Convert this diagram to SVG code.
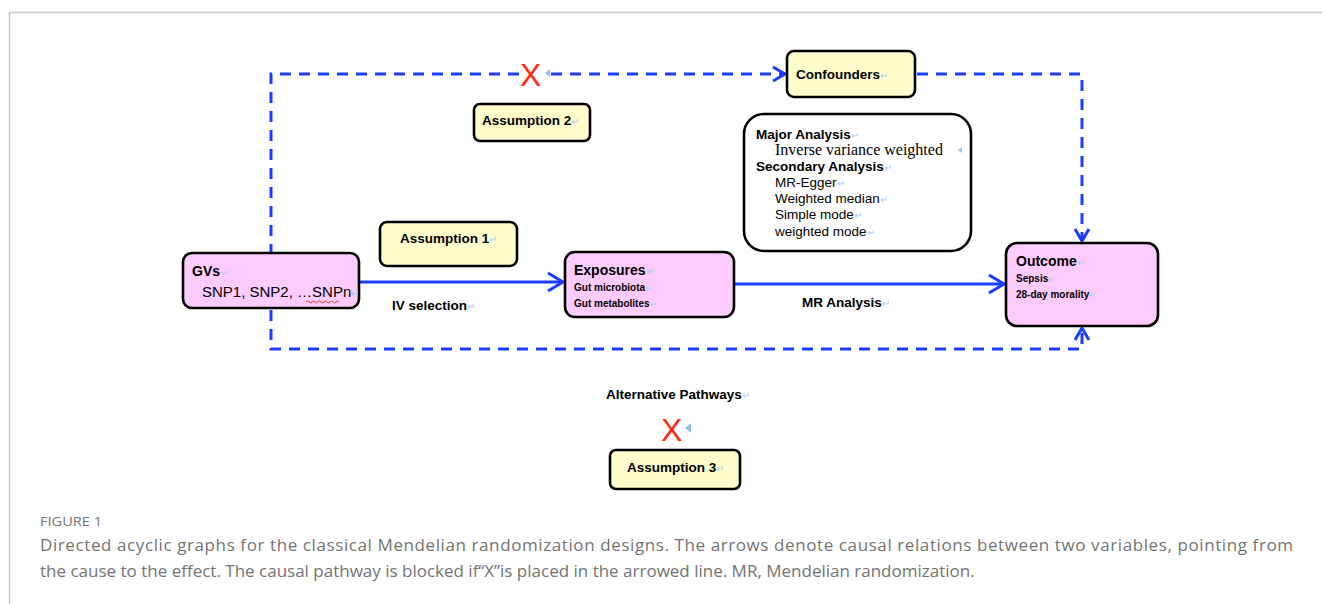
<svg xmlns="http://www.w3.org/2000/svg" width="1322" height="604" viewBox="0 0 1322 604">
<style>
.box{stroke:#000;stroke-width:2.6}
.yel{fill:#fefccb}
.pink{fill:#fdcbfd}
.wht{fill:#fff}
.b{font-family:"Liberation Sans",Arial,sans-serif;font-weight:bold;fill:#000}
.r{font-family:"Liberation Sans",Arial,sans-serif;fill:#000}
.s{font-family:"Liberation Serif","Times New Roman",serif;fill:#000}
.pm{fill:#a9cdf7;font-weight:normal}
.dash{fill:none;stroke:#1a3cff;stroke-width:3;stroke-dasharray:11 8}
.solid{fill:none;stroke:#1a3cff;stroke-width:3}
.head{fill:none;stroke:#1a3cff;stroke-width:3}
.xm{font-family:"Liberation Sans",Arial,sans-serif;fill:#ff2a10;font-size:32px}
.cap{font-family:"Open Sans","Liberation Sans",sans-serif;fill:#737373}
</style>
<rect x="0" y="0" width="1322" height="604" fill="#fff"/>
<path d="M9.5 604 V12.5 H1322" fill="none" stroke="#c8c8c8" stroke-width="1.5"/>

<g id="connectors">
  <path class="dash" d="M271 255 V74 H520"/>
  <path class="dash" d="M551 74 H782"/>
  <path class="head" d="M773 67 L785 74 L773 81"/>
  <path class="dash" d="M917 74 H1082 V238"/>
  <path class="head" d="M1075 229 L1082 241 L1089 229"/>
  <path class="dash" d="M271 310 V349 H1082 V330"/>
  <path class="head" d="M1075 340 L1082 328 L1089 340"/>
  <path class="solid" d="M360 282 H562"/>
  <path class="head" d="M548 273 L563 282 L548 291"/>
  <path class="solid" d="M735 284 H1003"/>
  <path class="head" d="M989 275 L1004 284 L989 293"/>
  <text class="xm" x="520" y="86">X</text>
  <path d="M545 73 L550 69 L550 77 Z" fill="#8fc0f5"/>
  <text class="xm" x="661" y="441">X</text>
  <path d="M685 428 L691 423 L691 433 Z" fill="#8fc0f5"/>
  <text class="b" x="392" y="310" font-size="13.5">IV selection<tspan class="pm" font-size="10">↵</tspan></text>
  <text class="b" x="802" y="307" font-size="13.5">MR Analysis<tspan class="pm" font-size="10">↵</tspan></text>
  <text class="b" x="606" y="399" font-size="13.5">Alternative Pathways<tspan class="pm" font-size="10">↵</tspan></text>
</g>

<g id="gvs">
  <rect class="box pink" x="183" y="253" width="176" height="55" rx="9"/>
  <text class="b" x="192" y="276" font-size="14">GVs<tspan class="pm" font-size="10">↵</tspan></text>
  <text class="r" x="202" y="297" font-size="15">SNP1, SNP2, …SNPn<tspan class="pm" font-size="10">↵</tspan></text>
  <path d="M306 302 q1.5 -2 3 0 t3 0 t3 0 t3 0 t3 0 t3 0 t3 0 t3 0 t3 0 t3 0 t3 0" fill="none" stroke="#e02020" stroke-width="0.9"/>
</g>

<g id="exposures">
  <rect class="box pink" x="565" y="252" width="169" height="65" rx="10"/>
  <text class="b" x="574" y="275" font-size="14">Exposures<tspan class="pm" font-size="10">↵</tspan></text>
  <text class="b" x="574" y="291" font-size="10">Gut microbiota<tspan class="pm" font-size="8">↵</tspan></text>
  <text class="b" x="574" y="307" font-size="10">Gut metabolites<tspan class="pm" font-size="8">↵</tspan></text>
</g>

<g id="outcome">
  <rect class="box pink" x="1006" y="243" width="152" height="83" rx="11"/>
  <text class="b" x="1016" y="266" font-size="14">Outcome<tspan class="pm" font-size="10">↵</tspan></text>
  <text class="b" x="1016" y="282" font-size="10">Sepsis<tspan class="pm" font-size="8">↵</tspan></text>
  <text class="b" x="1016" y="298" font-size="10">28-day morality<tspan class="pm" font-size="8">↵</tspan></text>
</g>

<g id="confounders">
  <rect class="box yel" x="787" y="51" width="128" height="46" rx="7"/>
  <text class="b" x="796" y="79" font-size="13.5">Confounders<tspan class="pm" font-size="10">↵</tspan></text>
</g>

<g id="assumption2">
  <rect class="box yel" x="474" y="104" width="116" height="37" rx="6"/>
  <text class="b" x="482" y="125" font-size="13.5">Assumption 2<tspan class="pm" font-size="10">↵</tspan></text>
</g>

<g id="assumption1">
  <rect class="box yel" x="380" y="222" width="137" height="44" rx="7"/>
  <text class="b" x="400" y="243" font-size="13.5">Assumption 1<tspan class="pm" font-size="10">↵</tspan></text>
</g>

<g id="assumption3">
  <rect class="box yel" x="610" y="450" width="130" height="39" rx="6"/>
  <text class="b" x="627" y="472" font-size="13.5">Assumption 3<tspan class="pm" font-size="10">↵</tspan></text>
</g>

<g id="analysis">
  <rect class="box wht" x="744" y="114" width="227" height="137" rx="20"/>
  <text class="b" x="756" y="139" font-size="13.5">Major Analysis<tspan class="pm" font-size="10">↵</tspan></text>
  <text class="s" x="775" y="155" font-size="16">Inverse variance weighted</text>
  <path d="M958 150 L962 147 L962 153 Z" fill="#8fc0f5"/>
  <text class="b" x="756" y="171" font-size="13.5">Secondary Analysis<tspan class="pm" font-size="10">↵</tspan></text>
  <text class="r" x="775" y="187" font-size="13.5">MR-Egger<tspan class="pm" font-size="10">↵</tspan></text>
  <text class="r" x="775" y="203" font-size="13.5">Weighted median<tspan class="pm" font-size="10">↵</tspan></text>
  <text class="r" x="775" y="219" font-size="13.5">Simple mode<tspan class="pm" font-size="10">↵</tspan></text>
  <text class="r" x="775" y="236" font-size="13.5">weighted mode<tspan class="pm" font-size="10">↵</tspan></text>
</g>

<g id="caption">
  <text class="cap" x="40" y="526" font-size="12.5" textLength="62" lengthAdjust="spacingAndGlyphs">FIGURE 1</text>
  <text class="cap" x="40" y="551" font-size="17" textLength="1253" lengthAdjust="spacing">Directed acyclic graphs for the classical Mendelian randomization designs. The arrows denote causal relations between two variables, pointing from</text>
  <text class="cap" x="40" y="577" font-size="17">the cause to the effect. The causal pathway is blocked if“X”is placed in the arrowed line. MR, Mendelian randomization.</text>
</g>
</svg>
